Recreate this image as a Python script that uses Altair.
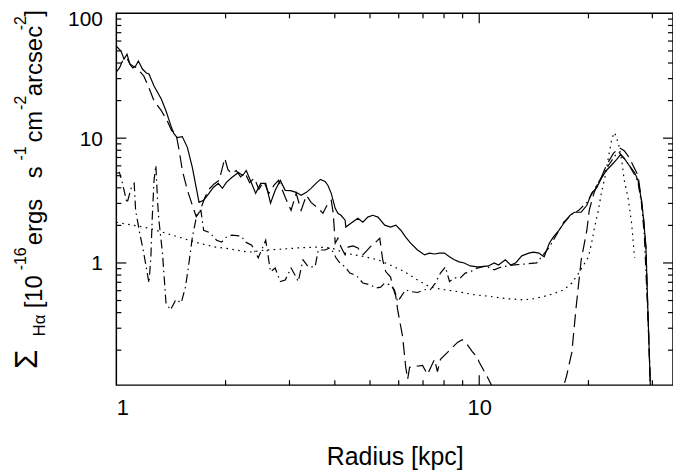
import altair as alt
import pandas as pd

# ---------------- data (radius [kpc], surface brightness) ----------------
SOLID = [(1.00, 54.6), (1.03, 49.8), (1.05, 43.0), (1.07, 47.1), (1.09, 39.2), (1.11, 36.5),
         (1.13, 37.8), (1.15, 41.5), (1.18, 35.8), (1.21, 33.3), (1.23, 32.7), (1.27, 26.2),
         (1.33, 20.6), (1.37, 16.6), (1.42, 12.1), (1.44, 10.9), (1.47, 10.1), (1.52, 10.3),
         (1.57, 8.4), (1.62, 5.8), (1.69, 3.06), (1.74, 3.18), (1.80, 3.61), (1.85, 4.03),
         (1.91, 4.34), (1.96, 3.96), (2.01, 4.42), (2.08, 4.84), (2.17, 5.31), (2.23, 5.02),
         (2.28, 5.51), (2.36, 4.34), (2.42, 3.61), (2.50, 4.34), (2.58, 4.34), (2.66, 3.01),
         (2.74, 3.82), (2.83, 4.59), (2.92, 3.82), (3.02, 3.8), (3.13, 3.68), (3.23, 3.48),
         (3.34, 3.68), (3.44, 3.96), (3.55, 4.34), (3.65, 4.67), (3.76, 4.50), (3.83, 4.18),
         (3.91, 3.61), (4.01, 2.74), (4.08, 2.50), (4.16, 2.41), (4.27, 2.20), (4.29, 1.94),
         (4.43, 2.08), (4.63, 2.28), (4.78, 2.12), (4.93, 2.33), (5.09, 2.41), (5.26, 2.33),
         (5.49, 2.01), (5.70, 1.94), (5.89, 2.01), (6.08, 1.83), (6.27, 1.61), (6.47, 1.44),
         (6.76, 1.27), (7.07, 1.16), (7.29, 1.20), (7.53, 1.18), (7.77, 1.20), (8.02, 1.20),
         (8.28, 1.12), (8.54, 1.06), (8.81, 1.02), (9.09, 1.00), (9.45, 0.947), (9.88, 0.93),
         (10.1, 0.93), (10.6, 0.947), (11.0, 1.0), (11.3, 0.964), (11.8, 1.06), (12.2, 0.964),
         (12.6, 1.0), (13.1, 1.14), (13.7, 1.20), (14.1, 1.22), (14.6, 1.20), (15.1, 1.12),
         (15.6, 1.44), (16.0, 1.61), (16.6, 1.83), (17.1, 2.08), (17.8, 2.41), (18.3, 2.55),
         (19.1, 2.55), (19.8, 2.90), (20.4, 3.61), (21.1, 4.03), (21.7, 4.76), (22.4, 5.51),
         (23.1, 6.04), (23.9, 6.74), (24.5, 7.38), (25.1, 6.87), (25.9, 6.04), (26.8, 5.31),
         (27.4, 4.59), (28.0, 3.18), (28.4, 2.20), (28.8, 1.34), (29.1, 0.507), (29.4, 0.203),
         (29.7, 0.08)]

LONG_DASH = [(1.00, 33.9), (1.02, 36.5), (1.04, 41.5), (1.07, 43.8), (1.09, 39.2), (1.11, 37.8),
             (1.14, 36.5), (1.19, 31.5), (1.23, 25.3), (1.27, 19.9), (1.33, 16.6), (1.38, 13.8),
             (1.42, 11.5), (1.46, 10.9), (1.49, 7.94), (1.52, 5.51), (1.57, 3.82), (1.62, 2.90),
             (1.66, 2.35), (1.70, 2.6), (1.75, 3.3), (1.80, 3.9), (1.86, 4.3), (1.92, 4.6),
             (1.99, 6.9), (2.03, 5.6), (2.08, 5.2), (2.14, 5.5), (2.20, 4.9), (2.26, 5.3),
             (2.33, 4.4), (2.40, 4.8), (2.47, 3.9), (2.55, 4.5), (2.63, 3.6), (2.72, 4.2),
             (2.80, 4.59), (2.92, 3.36), (3.03, 2.64), (3.13, 3.61), (3.23, 2.64), (3.34, 3.48),
             (3.44, 3.06), (3.60, 2.74), (3.71, 2.50), (3.83, 3.01), (3.91, 3.18), (3.96, 2.50),
             (4.01, 1.44), (4.08, 1.58), (4.16, 1.34), (4.27, 1.16), (4.35, 1.34), (4.49, 1.37),
             (4.63, 1.32), (4.78, 1.16), (5.00, 1.34), (5.15, 1.44), (5.32, 1.58), (5.42, 1.06),
             (5.53, 0.85), (5.70, 0.77), (5.78, 0.64), (5.89, 0.54), (5.96, 0.42), (6.15, 0.257),
             (6.27, 0.148), (6.35, 0.117), (6.43, 0.146), (6.63, 0.148), (6.98, 0.151),
             (7.20, 0.128), (7.53, 0.169), (7.67, 0.135), (7.82, 0.169), (8.33, 0.203),
             (8.71, 0.231), (8.98, 0.243), (9.27, 0.222), (9.57, 0.195), (9.88, 0.175),
             (10.0, 0.160), (10.5, 0.124), (10.9, 0.10), (11.5, 0.05), (16.5, 0.05), (17.2, 0.11),
             (17.4, 0.124), (18.0, 0.192), (18.5, 0.446), (19.1, 1.06), (19.8, 1.83), (20.1, 2.64),
             (20.7, 3.61), (21.1, 4.18), (21.7, 4.84), (22.4, 6.04), (23.4, 7.52), (24.3, 8.40),
             (25.1, 7.94), (25.9, 7.0), (26.8, 5.71), (27.4, 5.02), (28.0, 3.18), (28.4, 2.2),
             (28.8, 1.34), (29.1, 0.507), (29.4, 0.203), (29.7, 0.08)]

DASH_DOT = [(1.00, 5.21), (1.02, 5.31), (1.04, 4.34), (1.07, 3.01), (1.10, 4.03), (1.12, 4.34),
            (1.13, 2.64), (1.16, 1.73), (1.19, 1.20), (1.23, 0.69), (1.245, 1.12), (1.255, 2.20),
            (1.27, 4.59), (1.285, 6.04), (1.30, 3.01), (1.31, 2.20), (1.34, 1.20), (1.37, 0.48),
            (1.41, 0.42), (1.46, 0.51), (1.51, 0.48), (1.55, 0.64), (1.58, 0.93), (1.62, 1.61),
            (1.67, 2.50), (1.71, 2.64), (1.74, 1.83), (1.80, 1.76), (1.86, 1.61), (1.89, 1.52),
            (1.95, 1.47), (2.01, 1.61), (2.08, 1.67), (2.21, 1.64), (2.27, 1.47), (2.36, 1.39),
            (2.46, 1.10), (2.58, 1.52), (2.66, 0.85), (2.74, 0.91), (2.83, 0.71), (2.92, 0.73),
            (3.03, 0.91), (3.13, 0.77), (3.17, 0.71), (3.27, 1.06), (3.38, 0.93), (3.53, 0.93),
            (3.60, 1.27), (3.76, 1.27), (3.88, 1.32), (3.96, 1.22), (4.03, 1.10), (4.13, 1.0),
            (4.27, 0.93), (4.40, 0.83), (4.54, 0.80), (4.63, 0.77), (4.78, 0.69), (5.00, 0.67),
            (5.18, 0.63), (5.35, 0.64), (5.49, 0.69), (5.66, 0.67), (5.84, 0.61), (5.96, 0.49),
            (6.07, 0.53), (6.27, 0.61), (6.47, 0.59), (6.76, 0.58), (7.07, 0.61), (7.33, 0.61),
            (7.57, 0.69), (7.82, 0.83), (8.07, 0.93), (8.28, 0.71), (8.54, 0.76), (8.87, 0.76),
            (9.15, 0.83), (9.45, 0.85), (9.88, 0.91), (10.4, 0.95), (11.0, 0.88), (11.5, 0.93),
            (12.5, 0.964), (13.3, 0.98), (14.4, 1.0), (15.6, 1.34), (16.3, 1.67), (17.1, 2.12),
            (18.0, 2.46), (18.8, 2.64), (19.8, 3.06), (20.7, 3.82), (21.7, 4.84), (22.7, 6.04),
            (23.7, 7.26), (24.3, 7.66), (25.1, 6.9), (25.9, 6.04), (26.8, 5.1), (27.4, 4.4),
            (28.0, 3.0), (28.5, 1.7), (29.0, 0.55), (29.4, 0.2), (29.7, 0.08)]

DOTTED = [(1.00, 2.12), (1.11, 2.01), (1.23, 1.90), (1.37, 1.73), (1.52, 1.58), (1.69, 1.44),
          (1.88, 1.34), (2.08, 1.29), (2.31, 1.22), (2.58, 1.27), (2.85, 1.29), (3.17, 1.32),
          (3.60, 1.34), (3.91, 1.32), (4.27, 1.20), (4.84, 1.12), (5.26, 1.06), (5.70, 0.96),
          (6.23, 0.85), (6.76, 0.73), (7.33, 0.64), (8.02, 0.61), (8.71, 0.59), (9.7, 0.556),
          (10.7, 0.54), (11.9, 0.517), (13.3, 0.507), (14.1, 0.517), (15.1, 0.54), (16.0, 0.566),
          (17.1, 0.61), (18.0, 0.69), (18.8, 0.83), (19.4, 0.964), (20.0, 1.12), (20.4, 1.44),
          (20.8, 1.94), (21.3, 2.64), (21.7, 3.61), (22.2, 4.84), (22.7, 7.0), (23.2, 9.91),
          (23.6, 11.1), (24.2, 9.04), (24.7, 6.62), (25.1, 4.59), (25.7, 3.36), (26.3, 2.08),
          (26.8, 1.1)]

X_LABELS = [1, 10]
Y_LABELS = [1, 10, 100]
X_MAJOR = [10]
X_MINOR = [2, 3, 4, 5, 6, 7, 8, 9, 20, 30]
Y_MAJOR = [1, 10]
Y_MINOR = [0.2, 0.3, 0.4, 0.5, 0.6, 0.7, 0.8, 0.9, 2, 3, 4, 5, 6, 7, 8, 9,
           20, 30, 40, 50, 60, 70, 80, 90]

X_DOMAIN = [1, 34.2]
Y_DOMAIN = [0.105, 100]

# ---------------- layout ----------------
W, H = 560, 374
LEFT, TOP = 117, 12
FONT = "Liberation Sans"
xs = alt.Scale(type="log", domain=X_DOMAIN, nice=False)
ys = alt.Scale(type="log", domain=Y_DOMAIN, nice=False)

XAX = alt.Axis(values=X_LABELS, format=".0f", ticks=False, domain=False, grid=False,
               labelFont=FONT, labelFontSize=22, labelColor="black", labelPadding=13,
               title="Radius [kpc]", titleFont=FONT, titleFontSize=25,
               titleFontWeight="normal", titleColor="black", titlePadding=26)
YAX = alt.Axis(values=Y_LABELS, format=".0f", ticks=False, domain=False, grid=False,
               labelFont=FONT, labelFontSize=21, labelColor="black", labelPadding=14,
               labelOffset={"condition": {"test": "datum.value >= 100", "value": 6}, "value": 1},
               title=None)


def frame(pairs):
    return pd.DataFrame({"r": [p[0] for p in pairs],
                         "v": [p[1] for p in pairs],
                         "i": list(range(len(pairs)))})


def curve(pairs, dash=None):
    kw = dict(color="black", strokeWidth=1.2, clip=True, strokeCap="butt")
    if dash:
        kw["strokeDash"] = dash
    return alt.Chart(frame(pairs)).mark_line(**kw).encode(
        x=alt.X("r:Q", scale=xs, axis=XAX, title="Radius [kpc]"),
        y=alt.Y("v:Q", scale=ys, axis=YAX),
        order="i:Q",
    )


def xticks(vals, length):
    df = pd.DataFrame({"r": vals})
    base = alt.Chart(df).mark_rule(color="black", strokeWidth=1.2)
    enc_x = alt.X("r:Q", scale=xs, axis=XAX, title="Radius [kpc]")
    return [
        base.encode(x=enc_x, y=alt.value(H), y2=alt.value(H - length)),
        base.encode(x=enc_x, y=alt.value(0), y2=alt.value(length)),
    ]


def yticks(vals, length):
    df = pd.DataFrame({"v": vals})
    base = alt.Chart(df).mark_rule(color="black", strokeWidth=1.2)
    enc_y = alt.Y("v:Q", scale=ys, axis=YAX)
    return [
        base.encode(y=enc_y, x=alt.value(0), x2=alt.value(length)),
        base.encode(y=enc_y, x=alt.value(W), x2=alt.value(W - length)),
    ]


layers = [curve(SOLID),
          curve(LONG_DASH, [13, 6]),
          curve(DASH_DOT, [9, 4, 1.5, 4]),
          curve(DOTTED, [1.6, 4.4])]
layers += xticks(X_MAJOR, 10) + xticks(X_MINOR, 5)
layers += yticks(Y_MAJOR, 10) + yticks(Y_MINOR, 5)

# y-axis title pieces: (text, font size, baseline x, centre y), page pixels
title_pieces = [
    ("\u03a3", 31, 37, 360),
    ("H\u03b1", 17, 45, 326),
    ("[10", 24, 42, 292),
    ("-16", 16, 26, 259),
    ("ergs", 24, 42, 222),
    ("s", 24, 42, 172),
    ("-1", 16, 26, 153),
    ("cm", 24, 42, 126),
    ("-2", 16, 26, 102),
    ("arcsec", 24, 42, 60),
    ("-2", 16, 26, 22),
    ("]", 24, 42, 12),
]
for txt, size, bx, cy in title_pieces:
    layers.append(
        alt.Chart(pd.DataFrame({"s": [txt]})).mark_text(
            angle=270, align="center", baseline="alphabetic", font=FONT,
            fontSize=size, color="black"
        ).encode(text="s:N", x=alt.value(bx - LEFT), y=alt.value(cy - TOP))
    )

chart = alt.layer(*layers).properties(
    width=W, height=H,
    autosize=alt.AutoSizeParams(type="none"),
    padding={"left": LEFT - 8, "top": TOP - 8, "right": 0, "bottom": 84},
).configure_view(stroke="black", strokeWidth=1.5)

chart.save("out.html", embed_options={"renderer": "svg", "actions": False})
